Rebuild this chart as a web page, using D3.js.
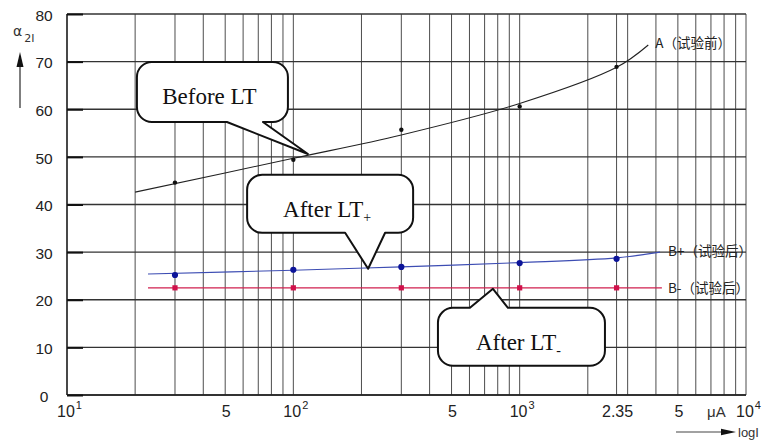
<!DOCTYPE html>
<html><head><meta charset="utf-8">
<script src="https://cdn.jsdelivr.net/npm/d3@7"></script>
<style>body{margin:0;background:#fff}svg{display:block}</style>
</head><body><svg id="chart" width="765" height="443"></svg>
<script>
// Measured α2I against current I (μA)
const currents = [30, 100, 300, 1000, 2680];
const alphaBefore = [44.6, 49.4, 55.7, 60.6, 68.9];
const alphaAfterPlus = [25.2, 26.3, 26.9, 27.7, 28.6];
const alphaAfterMinus = [22.5, 22.5, 22.5, 22.5, 22.5];

// Fitted trend curves
const fitBeforeI = [20, 100, 300, 1000, 2680, 3700];
const fitBeforeA = [42.6, 49.7, 54.6, 61.2, 68.8, 73.5];
const fitPlusI = [22.8, 100, 300, 1000, 2680, 4170];
const fitPlusA = [25.4, 26.2, 26.9, 27.8, 28.8, 30.0];
const fitMinusI = [22.8, 4250];
const fitMinusA = [22.5, 22.5];

const seriesLabels = ["A（试验前）", "B+（试验后）", "B-（试验后）"];

// Axis ticks
const yTicks = [0, 10, 20, 30, 40, 50, 60, 70, 80];
const decadeTicks = [10, 100, 1000, 10000];
const decadeExp = ["1", "2", "3", "4"];
const minorTickValues = [50, 500, 2680, 5000];
const minorTickLabels = ["5", "5", "2.35", "5"];
const unitLabel = "μA";
const unitAt = 7400;

// Callout notes: [text, subscript], and the point each one points at [I, α]
const calloutTexts = [["Before LT", ""], ["After LT", "+"], ["After LT", "-"]];
const calloutTips = [[116, 50.6], [214, 26.5], [762, 22.3]];

const svg = d3.select("#chart");
const x = d3.scaleLog().domain([10, 10000]).range([67, 746]);
const y = d3.scaleLinear().domain([0, 80]).range([395, 14]);

// ---- grid ----
const gridX = [];
[10, 100, 1000].forEach(d => { for (let m = 1; m <= 9; m++) gridX.push(d * m); });
gridX.push(10000, 2680);

const grid = svg.append("g");
grid.selectAll("line.v").data(gridX).join("line")
  .attr("x1", d => x(d)).attr("x2", d => x(d))
  .attr("y1", y(0)).attr("y2", y(80))
  .attr("stroke", "#4d4d4d").attr("stroke-width", 1);
grid.selectAll("line.h").data(yTicks).join("line")
  .attr("x1", x(10)).attr("x2", x(10000))
  .attr("y1", d => y(d)).attr("y2", d => y(d))
  .attr("stroke", "#333").attr("stroke-width", 1.3);

// frame edges
svg.append("line").attr("x1", x(10)).attr("x2", x(10)).attr("y1", y(0)).attr("y2", y(80))
  .attr("stroke", "#222").attr("stroke-width", 1.4);
svg.append("line").attr("x1", x(10)).attr("x2", x(10000)).attr("y1", y(0)).attr("y2", y(0))
  .attr("stroke", "#222").attr("stroke-width", 1.4);

// y axis: short inner ticks and centred labels
const yAxis = svg.append("g").attr("transform", `translate(${x(10)},0)`)
  .call(d3.axisLeft(y).tickValues(yTicks).tickSize(-16).tickPadding(23));
yAxis.select(".domain").remove();
yAxis.selectAll(".tick line").attr("stroke", "#111").attr("stroke-width", 2);
yAxis.selectAll(".tick text")
  .attr("text-anchor", "middle").attr("dy", "0.4em")
  .attr("font-family", "Liberation Sans, Arial, sans-serif").attr("font-size", 15.5).attr("fill", "#222");

// y axis title with arrow
const yt = svg.append("text").attr("x", 13).attr("y", 36)
  .attr("font-family", "DejaVu Sans, sans-serif").attr("font-size", 14).attr("fill", "#333");
yt.append("tspan").text("α");
yt.append("tspan").attr("dx", 2).attr("dy", 6).attr("font-size", 11).text("2I");
svg.append("line").attr("x1", 20).attr("x2", 20).attr("y1", 108).attr("y2", 64)
  .attr("stroke", "#555").attr("stroke-width", 1.5);
svg.append("path").attr("d", "M20,52L16.5,67L23.5,67Z").attr("fill", "#111");

// x axis labels
const lab = svg.append("g").attr("font-family", "Liberation Sans, Arial, sans-serif").attr("fill", "#222");
decadeTicks.forEach((v, i) => {
  const t = lab.append("text").attr("x", x(v) - 10).attr("y", 417).attr("font-size", 16);
  t.append("tspan").text("10");
  t.append("tspan").attr("dx", 1).attr("dy", -8).attr("font-size", 11).text(decadeExp[i]);
});
minorTickValues.forEach((v, i) => {
  lab.append("text").attr("x", x(v) + 1).attr("y", 417).attr("font-size", 16)
    .attr("text-anchor", "middle").text(minorTickLabels[i]);
});
lab.append("text").attr("x", x(unitAt)).attr("y", 417).attr("font-size", 15)
  .attr("text-anchor", "middle").attr("fill", "#333").text(unitLabel);

// x axis title with arrow
svg.append("line").attr("x1", 676).attr("x2", 724).attr("y1", 432).attr("y2", 432)
  .attr("stroke", "#444").attr("stroke-width", 1.2);
svg.append("path").attr("d", "M736,432L721,428.8L721,435.2Z").attr("fill", "#111");
svg.append("text").attr("x", 738).attr("y", 437)
  .attr("font-family", "Liberation Sans, Arial, sans-serif").attr("font-size", 13).attr("fill", "#333").text("logI");

// ---- curves ----
const line = d3.line().x(d => x(d[0])).y(d => y(d[1])).curve(d3.curveCatmullRom.alpha(0.5));
const zip = (a, b) => a.map((v, i) => [v, b[i]]);

svg.append("path").attr("d", line(zip(fitBeforeI, fitBeforeA)))
  .attr("fill", "none").attr("stroke", "#222").attr("stroke-width", 1.1);
svg.append("path").attr("d", line(zip(fitPlusI, fitPlusA)))
  .attr("fill", "none").attr("stroke", "#3d4db3").attr("stroke-width", 1.1);
svg.append("path").attr("d", line(zip(fitMinusI, fitMinusA)))
  .attr("fill", "none").attr("stroke", "#d0204f").attr("stroke-width", 1.1);

// ---- measured points ----
svg.append("g").selectAll("circle").data(zip(currents, alphaBefore)).join("circle")
  .attr("cx", d => x(d[0])).attr("cy", d => y(d[1])).attr("r", 2.2).attr("fill", "#111");
svg.append("g").selectAll("circle").data(zip(currents, alphaAfterPlus)).join("circle")
  .attr("cx", d => x(d[0])).attr("cy", d => y(d[1])).attr("r", 3.1).attr("fill", "#0c1499");
svg.append("g").selectAll("rect").data(zip(currents, alphaAfterMinus)).join("rect")
  .attr("x", d => x(d[0]) - 2.6).attr("y", d => y(d[1]) - 2.6).attr("width", 5.2).attr("height", 5.2)
  .attr("fill", "#d0104a");

// series labels at the curve ends
const sl = svg.append("g").attr("font-family", "Noto Sans CJK SC, sans-serif").attr("fill", "#222").attr("font-size", 13.5);
sl.append("text").attr("x", x(3700) + 7).attr("y", y(73.5) + 3).text(seriesLabels[0]);
sl.append("text").attr("x", x(4170) + 8).attr("y", y(30.0) + 4).text(seriesLabels[1]);
sl.append("text").attr("x", x(4250) + 6).attr("y", y(22.5) + 5).text(seriesLabels[2]);

// ---- callouts ----
// box offsets relative to the tip: [left, top, right, bottom, tailStart, tailEnd, side]
const calloutBoxes = [
  [-171, -92, -20, -32, -81, -45, "bottom"],
  [-121, -94, 45, -36, -23, 17, "bottom"],
  [-55, 19, 112, 77, -23, 15, "top"]
];
function calloutPath(tx, ty, b) {
  const [l, t, r, bt, s0, s1, side] = b;
  const x0 = tx + l, y0 = ty + t, x1 = tx + r, y1 = ty + bt, rad = 15;
  const p = d3.path();
  p.moveTo(x0 + rad, y0);
  if (side === "top") { p.lineTo(tx + s0, y0); p.lineTo(tx, ty); p.lineTo(tx + s1, y0); }
  p.lineTo(x1 - rad, y0);
  p.arcTo(x1, y0, x1, y0 + rad, rad);
  p.lineTo(x1, y1 - rad);
  p.arcTo(x1, y1, x1 - rad, y1, rad);
  if (side === "bottom") { p.lineTo(tx + s1, y1); p.lineTo(tx, ty); p.lineTo(tx + s0, y1); }
  p.lineTo(x0 + rad, y1);
  p.arcTo(x0, y1, x0, y1 - rad, rad);
  p.lineTo(x0, y0 + rad);
  p.arcTo(x0, y0, x0 + rad, y0, rad);
  p.closePath();
  return p.toString();
}
calloutTips.forEach((tip, i) => {
  const tx = x(tip[0]), ty = y(tip[1]), b = calloutBoxes[i];
  svg.append("path").attr("d", calloutPath(tx, ty, b))
    .attr("fill", "#fff").attr("stroke", "#111").attr("stroke-width", 2).attr("stroke-linejoin", "round");
  const cx = tx + (b[0] + b[2]) / 2 - 3;
  const t = svg.append("text").attr("x", cx).attr("y", ty + b[1] + 42)
    .attr("text-anchor", "middle").attr("font-family", "Liberation Serif, Times New Roman, serif")
    .attr("font-size", 23).attr("fill", "#111");
  t.append("tspan").text(calloutTexts[i][0]);
  if (calloutTexts[i][1]) t.append("tspan").attr("dy", 5).attr("font-size", 14).text(calloutTexts[i][1]);
});
</script>
</body></html>
